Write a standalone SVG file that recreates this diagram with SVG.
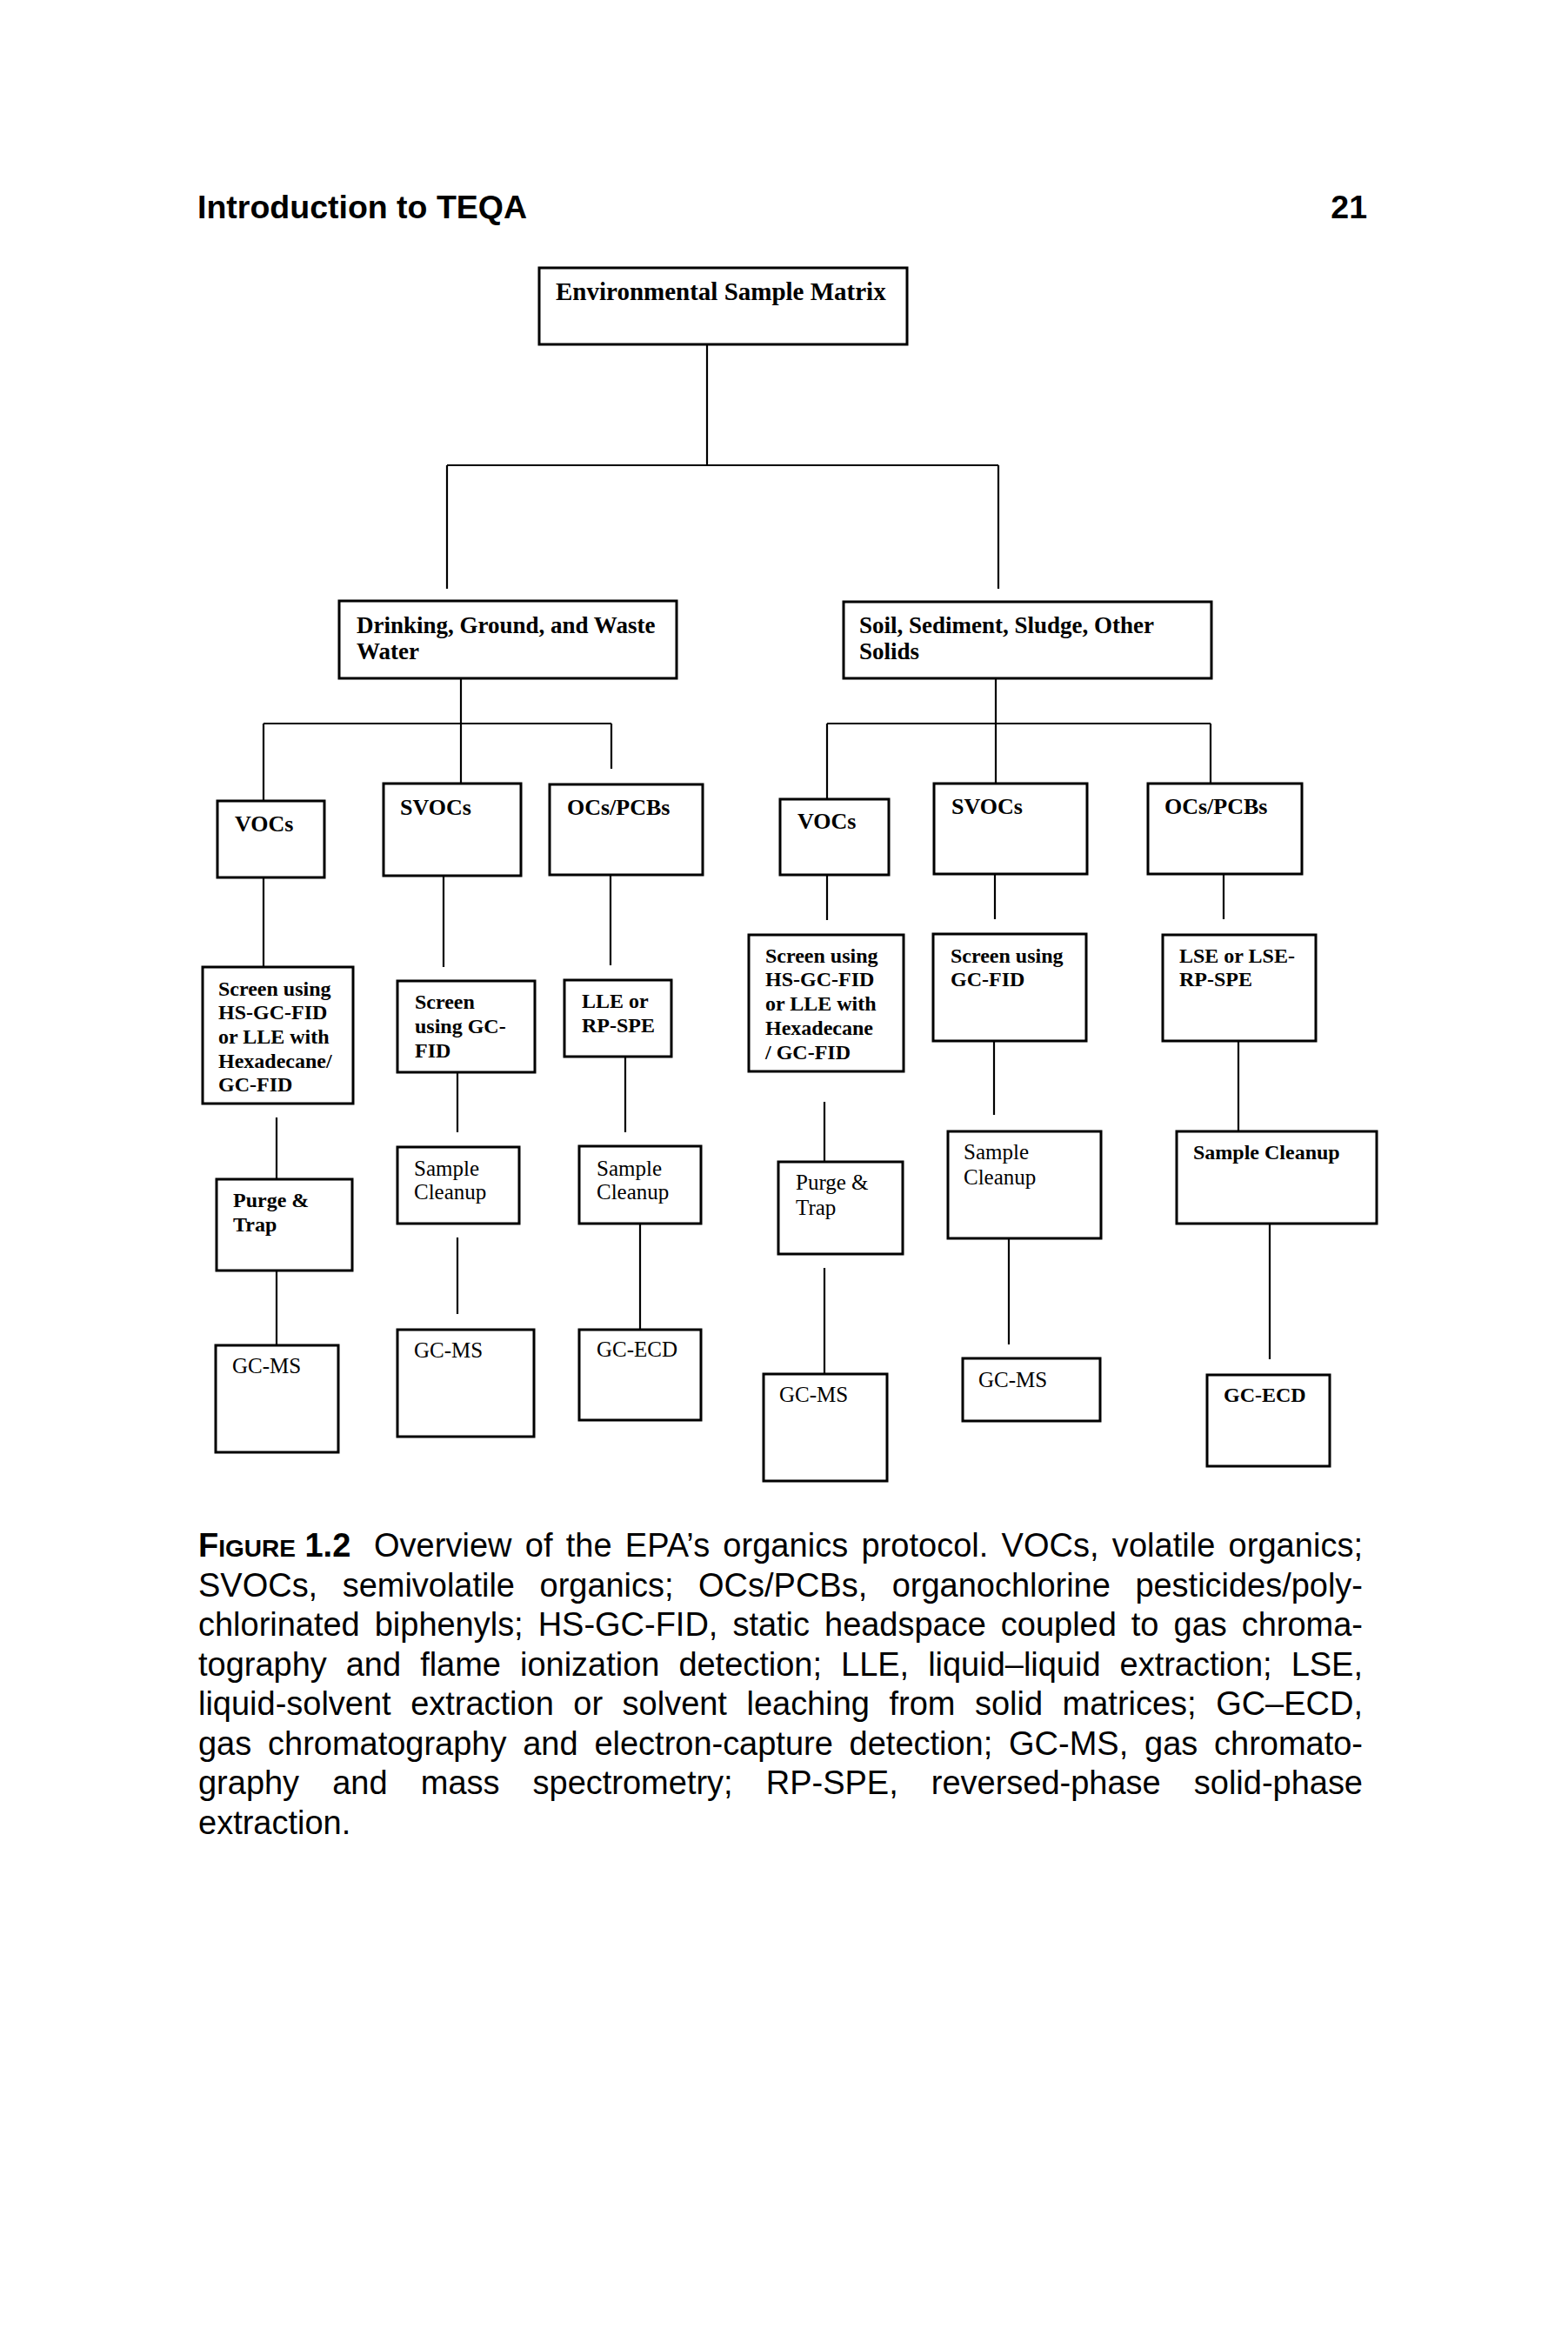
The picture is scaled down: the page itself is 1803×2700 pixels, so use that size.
<svg xmlns="http://www.w3.org/2000/svg" width="1803" height="2700" viewBox="0 0 1803 2700">
<style>
.box{fill:#fff;stroke:#000;stroke-width:3}
.conn line{stroke:#000;stroke-width:2.2}
.t{font-family:"Liberation Serif","Times New Roman",serif;font-weight:bold;fill:#000}
.r{font-weight:normal}
.f29{font-size:29px}.f27{font-size:27px}.f26{font-size:26px}.f24{font-size:24px}.f25{font-size:25px}
.hd{font-family:"Liberation Sans",Arial,sans-serif;font-weight:bold;font-size:37.5px;fill:#000}
.cap{font-family:"Liberation Sans",Arial,sans-serif;font-size:38px;fill:#000}
</style>
<rect width="1803" height="2700" fill="#fff"/>
<text class="hd" x="227" y="251">Introduction to TEQA</text>
<text class="hd" x="1572" y="251" text-anchor="end">21</text>

<g id="connectors" class="conn">
<line x1="813" y1="396" x2="813" y2="535"/>
<line x1="514" y1="535" x2="1148" y2="535"/>
<line x1="514" y1="535" x2="514" y2="677"/>
<line x1="1148" y1="535" x2="1148" y2="677"/>
<line x1="530" y1="780" x2="530" y2="832"/>
<line x1="303" y1="832" x2="703" y2="832"/>
<line x1="303" y1="832" x2="303" y2="921"/>
<line x1="530" y1="832" x2="530" y2="901"/>
<line x1="703" y1="832" x2="703" y2="884"/>
<line x1="1145" y1="780" x2="1145" y2="832"/>
<line x1="951" y1="832" x2="1392" y2="832"/>
<line x1="951" y1="832" x2="951" y2="919"/>
<line x1="1145" y1="832" x2="1145" y2="901"/>
<line x1="1392" y1="832" x2="1392" y2="901"/>
<line x1="303" y1="1009" x2="303" y2="1112"/>
<line x1="510" y1="1007" x2="510" y2="1112"/>
<line x1="702" y1="1006" x2="702" y2="1110"/>
<line x1="318" y1="1285" x2="318" y2="1356"/>
<line x1="318" y1="1461" x2="318" y2="1547"/>
<line x1="526" y1="1233" x2="526" y2="1302"/>
<line x1="526" y1="1423" x2="526" y2="1511"/>
<line x1="719" y1="1215" x2="719" y2="1302"/>
<line x1="736" y1="1407" x2="736" y2="1529"/>
<line x1="951" y1="1006" x2="951" y2="1058"/>
<line x1="1144" y1="1005" x2="1144" y2="1057"/>
<line x1="1407" y1="1005" x2="1407" y2="1057"/>
<line x1="948" y1="1267" x2="948" y2="1336"/>
<line x1="948" y1="1458" x2="948" y2="1580"/>
<line x1="1143" y1="1197" x2="1143" y2="1282"/>
<line x1="1160" y1="1424" x2="1160" y2="1546"/>
<line x1="1424" y1="1197" x2="1424" y2="1301"/>
<line x1="1460" y1="1407" x2="1460" y2="1563"/>
</g>

<g id="matrix"><rect class="box" x="620" y="308" width="423" height="88"/><text class="t f29" x="639" y="345">Environmental Sample Matrix</text></g>
<g id="water"><rect class="box" x="390" y="691" width="388" height="89"/><text class="t f27"><tspan x="410" y="728">Drinking, Ground, and Waste</tspan><tspan x="410" y="758">Water</tspan></text></g>
<g id="soil"><rect class="box" x="970" y="692" width="423" height="88"/><text class="t f27"><tspan x="988" y="728">Soil, Sediment, Sludge, Other</tspan><tspan x="988" y="758">Solids</tspan></text></g>

<g id="w-vocs"><rect class="box" x="250" y="921" width="123" height="88"/><text class="t f26" x="270" y="956">VOCs</text></g>
<g id="w-svocs"><rect class="box" x="441" y="901" width="158" height="106"/><text class="t f26" x="460" y="937">SVOCs</text></g>
<g id="w-ocs"><rect class="box" x="632" y="902" width="176" height="104"/><text class="t f26" x="652" y="937">OCs/PCBs</text></g>
<g id="w-screen1"><rect class="box" x="233" y="1112" width="173" height="157"/><text class="t f24"><tspan x="251" y="1145">Screen using</tspan><tspan x="251" y="1172">HS-GC-FID</tspan><tspan x="251" y="1200">or LLE with</tspan><tspan x="251" y="1228">Hexadecane/</tspan><tspan x="251" y="1255">GC-FID</tspan></text></g>
<g id="w-screen2"><rect class="box" x="457" y="1128" width="158" height="105"/><text class="t f24"><tspan x="477" y="1160">Screen</tspan><tspan x="477" y="1188">using GC-</tspan><tspan x="477" y="1216">FID</tspan></text></g>
<g id="w-lle"><rect class="box" x="649" y="1127" width="123" height="88"/><text class="t f24"><tspan x="669" y="1159">LLE or</tspan><tspan x="669" y="1187">RP-SPE</tspan></text></g>
<g id="w-purge"><rect class="box" x="249" y="1356" width="156" height="105"/><text class="t f24"><tspan x="268" y="1388">Purge &amp;</tspan><tspan x="268" y="1416">Trap</tspan></text></g>
<g id="w-clean1"><rect class="box" x="457" y="1319" width="140" height="88"/><text class="t r f25"><tspan x="476" y="1352">Sample</tspan><tspan x="476" y="1379">Cleanup</tspan></text></g>
<g id="w-clean2"><rect class="box" x="666" y="1318" width="140" height="89"/><text class="t r f25"><tspan x="686" y="1352">Sample</tspan><tspan x="686" y="1379">Cleanup</tspan></text></g>
<g id="w-gcms1"><rect class="box" x="248" y="1547" width="141" height="123"/><text class="t r f25" x="267" y="1579">GC-MS</text></g>
<g id="w-gcms2"><rect class="box" x="457" y="1529" width="157" height="123"/><text class="t r f25" x="476" y="1561">GC-MS</text></g>
<g id="w-gcecd"><rect class="box" x="666" y="1529" width="140" height="104"/><text class="t r f25" x="686" y="1560">GC-ECD</text></g>

<g id="s-vocs"><rect class="box" x="897" y="919" width="125" height="87"/><text class="t f26" x="917" y="953">VOCs</text></g>
<g id="s-svocs"><rect class="box" x="1074" y="901" width="176" height="104"/><text class="t f26" x="1094" y="936">SVOCs</text></g>
<g id="s-ocs"><rect class="box" x="1320" y="901" width="177" height="104"/><text class="t f26" x="1339" y="936">OCs/PCBs</text></g>
<g id="s-screen1"><rect class="box" x="861" y="1075" width="178" height="157"/><text class="t f24"><tspan x="880" y="1107">Screen using</tspan><tspan x="880" y="1134">HS-GC-FID</tspan><tspan x="880" y="1162">or LLE with</tspan><tspan x="880" y="1190">Hexadecane</tspan><tspan x="880" y="1218">/ GC-FID</tspan></text></g>
<g id="s-screen2"><rect class="box" x="1073" y="1074" width="176" height="123"/><text class="t f24"><tspan x="1093" y="1107">Screen using</tspan><tspan x="1093" y="1134">GC-FID</tspan></text></g>
<g id="s-lse"><rect class="box" x="1337" y="1075" width="176" height="122"/><text class="t f24"><tspan x="1356" y="1107">LSE or LSE-</tspan><tspan x="1356" y="1134">RP-SPE</tspan></text></g>
<g id="s-purge"><rect class="box" x="895" y="1336" width="143" height="106"/><text class="t r f25"><tspan x="915" y="1368">Purge &amp;</tspan><tspan x="915" y="1397">Trap</tspan></text></g>
<g id="s-clean2"><rect class="box" x="1090" y="1301" width="176" height="123"/><text class="t r f25"><tspan x="1108" y="1333">Sample</tspan><tspan x="1108" y="1362">Cleanup</tspan></text></g>
<g id="s-clean3"><rect class="box" x="1353" y="1301" width="230" height="106"/><text class="t f24" x="1372" y="1333">Sample Cleanup</text></g>
<g id="s-gcms1"><rect class="box" x="878" y="1580" width="142" height="123"/><text class="t r f25" x="896" y="1612">GC-MS</text></g>
<g id="s-gcms2"><rect class="box" x="1107" y="1562" width="158" height="72"/><text class="t r f25" x="1125" y="1595">GC-MS</text></g>
<g id="s-gcecd"><rect class="box" x="1388" y="1581" width="141" height="105"/><text class="t f24" x="1407" y="1612">GC-ECD</text></g>

<g id="caption">
<text class="cap" x="228" y="1790" font-weight="bold"><tspan font-size="38">F</tspan><tspan font-size="28">IGURE</tspan><tspan font-size="38"> 1.2</tspan></text>
<text class="cap" x="430" y="1790" word-spacing="4.6" textLength="1137" lengthAdjust="spacing">Overview of the EPA’s organics protocol. VOCs, volatile organics;</text>
<text class="cap" x="228" y="1835.5" word-spacing="18" textLength="1339" lengthAdjust="spacing">SVOCs, semivolatile organics; OCs/PCBs, organochlorine pesticides/poly-</text>
<text class="cap" x="228" y="1881" word-spacing="6.5" textLength="1339" lengthAdjust="spacing">chlorinated biphenyls; HS-GC-FID, static headspace coupled to gas chroma-</text>
<text class="cap" x="228" y="1926.5" word-spacing="11.5" textLength="1339" lengthAdjust="spacing">tography and flame ionization detection; LLE, liquid–liquid extraction; LSE,</text>
<text class="cap" x="228" y="1972" word-spacing="12" textLength="1339" lengthAdjust="spacing">liquid-solvent extraction or solvent leaching from solid matrices; GC–ECD,</text>
<text class="cap" x="228" y="2017.5" word-spacing="8.3" textLength="1339" lengthAdjust="spacing">gas chromatography and electron-capture detection; GC-MS, gas chromato-</text>
<text class="cap" x="228" y="2063" word-spacing="27.6" textLength="1339" lengthAdjust="spacing">graphy and mass spectrometry; RP-SPE, reversed-phase solid-phase</text>
<text class="cap" x="228" y="2108.5">extraction.</text>
</g>
</svg>
